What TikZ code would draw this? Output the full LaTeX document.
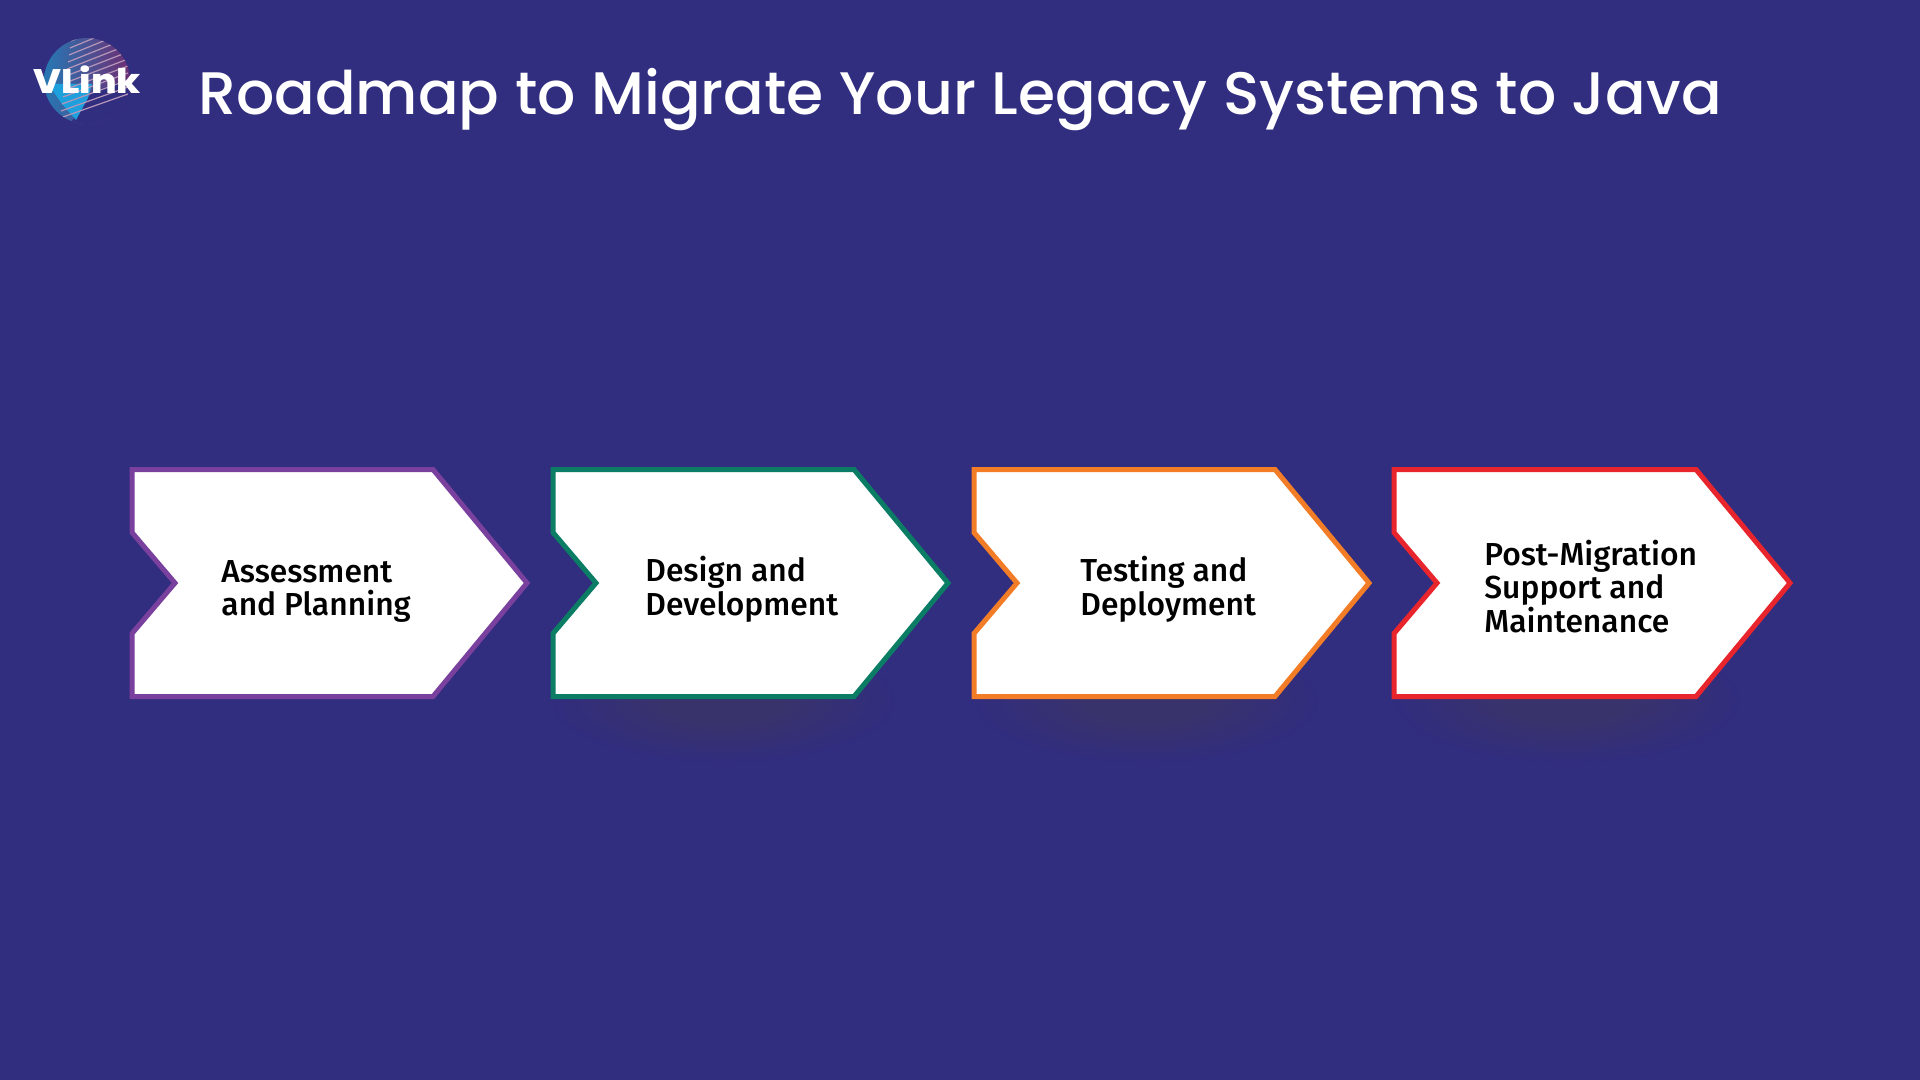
\documentclass[tikz,border=0pt]{standalone}
\usepackage{fontspec}
\setmainfont[UprightFont=* Medium]{Poppins}
\newfontfamily\labelfont[UprightFont=* Medium]{Fira Sans}
\definecolor{pagebg}{RGB}{49,45,127}
\definecolor{stepviolet}{RGB}{121,64,158}
\definecolor{stepgreen}{RGB}{10,125,100}
\definecolor{steporange}{RGB}{243,125,38}
\definecolor{stepred}{RGB}{232,36,44}
\definecolor{globeblue}{RGB}{38,120,180}
\definecolor{globepink}{RGB}{110,45,115}
\definecolor{globecyan}{RGB}{30,160,220}
\pgfdeclareradialshading{softblob}{\pgfpoint{0bp}{0bp}}{rgb(0bp)=(.224,.2,.42);rgb(8bp)=(.224,.2,.42);rgb(25bp)=(.192,.176,.498);rgb(50bp)=(.192,.176,.498)}
\tikzset{
  stepbox/.style={fill=white,line width=2.5pt,miter limit=10},
  steplabel/.style={font=\labelfont\fontsize{15.9}{16.85}\selectfont,text=black,align=left,anchor=west,inner sep=0pt},
  softshadow/.style={shading=softblob,draw=none}
}
\begin{document}
\begin{tikzpicture}[x=0.5pt,y=-0.5pt]
  \useasboundingbox[fill=pagebg] (0,0) rectangle (1920,1080);
  % logo
  \begin{scope}
    \clip (87,81) circle (43);
    \path[left color=globeblue,right color=globepink] (44,38) rectangle (130,124);
    \path[fill=pagebg] (70,124) -- (92,92) -- (130,78) -- (130,124) -- cycle;
    \path[fill=globecyan] (48,84) -- (92,84) -- (88,98) -- (76,120) -- (62,104) -- cycle;
    \foreach \s in {0,1,...,11}{
      \path[draw=white!50!globepink,line width=.6pt] (60+\s,118-7*\s) -- (128,94-7*\s);
    }
  \end{scope}
  \path (33,80) node[anchor=west,inner sep=0pt,text=white,xscale=1.1,font=\bfseries\fontsize{17}{17}\selectfont] (logotext) {VLink};
  % title
  \path (198,100) node[anchor=west,inner sep=0pt,text=white,font=\fontsize{30}{36}\selectfont] (title) {Roadmap to Migrate Your Legacy Systems to Java};
  % shadows
  \path[softshadow] (723,700) ellipse (175 and 64);
  \path[softshadow] (1146,700) ellipse (175 and 64);
  \path[softshadow] (1567,700) ellipse (175 and 64);
  % steps
  \draw[stepbox,draw=stepviolet] (132,469.5) -- ++(301,0) -- ++(94,113.5) -- ++(-94,113.5) -- ++(-301,0) -- ++(0,-63) -- ++(43,-50.5) -- ++(-43,-50.5) -- cycle;
  \draw[stepbox,draw=stepgreen] (553,469.5) -- ++(301,0) -- ++(94,113.5) -- ++(-94,113.5) -- ++(-301,0) -- ++(0,-63) -- ++(43,-50.5) -- ++(-43,-50.5) -- cycle;
  \draw[stepbox,draw=steporange] (974,469.5) -- ++(301,0) -- ++(94,113.5) -- ++(-94,113.5) -- ++(-301,0) -- ++(0,-63) -- ++(43,-50.5) -- ++(-43,-50.5) -- cycle;
  \draw[stepbox,draw=stepred] (1394,469.5) -- ++(302,0) -- ++(94,113.5) -- ++(-94,113.5) -- ++(-302,0) -- ++(0,-63) -- ++(43,-50.5) -- ++(-43,-50.5) -- cycle;
  % labels
  \path (221,591.5) node[steplabel] (assess) {Assessment\\and Planning};
  \path (645,589) node[steplabel] (design) {Design and\\Development};
  \path (1080,589) node[steplabel] (testing) {Testing and\\Deployment};
  \path (1484,586.5) node[steplabel] (support) {Post-Migration\\Support and\\Maintenance};
\end{tikzpicture}
\end{document}
